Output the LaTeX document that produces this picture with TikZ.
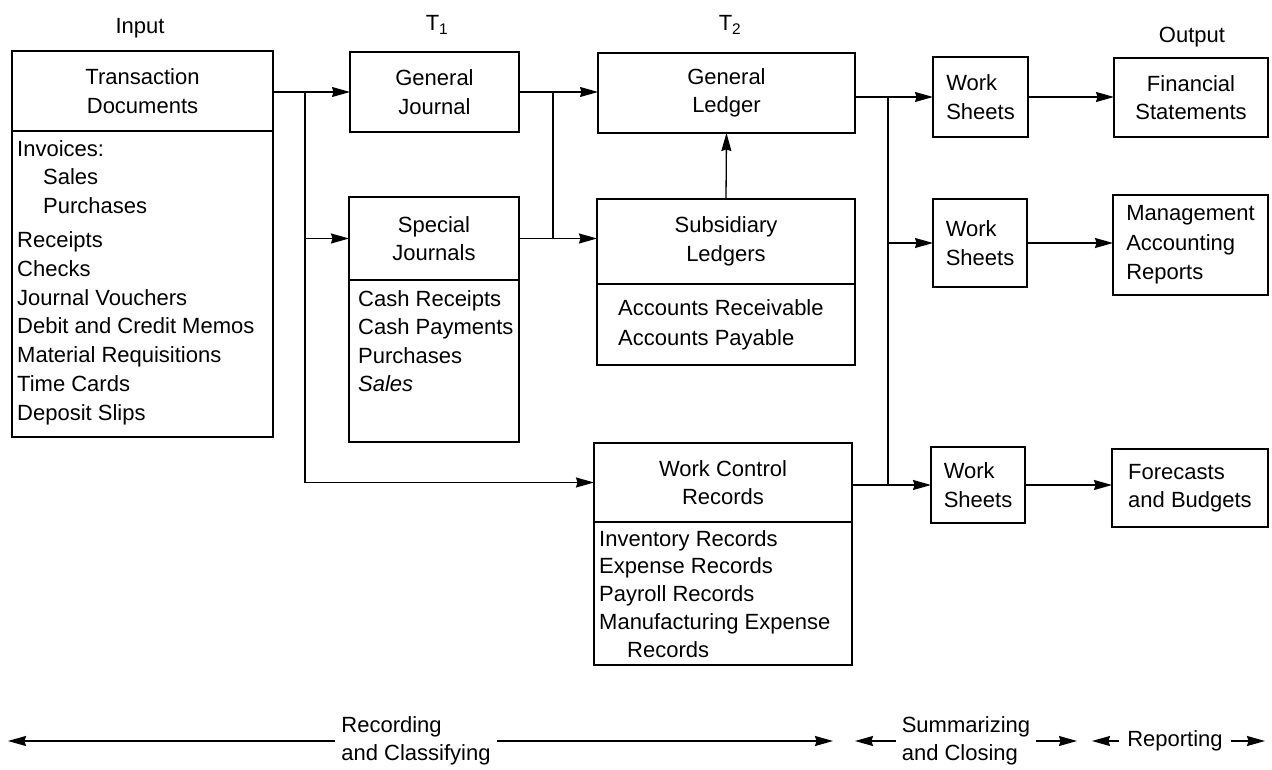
\documentclass[tikz,border=0pt]{standalone}
\usepackage{fontspec}
\setmainfont{Liberation Sans}
\usetikzlibrary{arrows.meta,calc}
\begin{document}
\begin{tikzpicture}[x=1pt,y=-1pt,
  every node/.style={font=\fontsize{22}{28.5}\selectfont},
  box/.style={draw, line width=1.6pt, inner sep=0pt, outer sep=0pt, align=center},
  lst/.style={inner sep=0pt, anchor=north west, align=left},
  lbl/.style={inner ysep=0pt, inner xsep=6pt},
  arr/.style={line width=1.3pt, -{Stealth[length=18pt,width=10pt,inset=1.5pt]}},
  ln/.style={line width=1.3pt}]
\useasboundingbox (0,0) rectangle (1272,770);

% column labels
\node[lbl] (in)  at (140,28) {Input};
\node[lbl] (t1)  at (437,25) {T\textsubscript{1}};
\node[lbl] (t2)  at (730,25) {T\textsubscript{2}};
\node[lbl] (out) at (1192,37) {Output};

% input
\node[box, minimum width=261pt, minimum height=80pt] (td) at (142.5,91) {Transaction\\Documents};
\node[box, anchor=north, minimum width=261pt, minimum height=306pt] (tdl) at (td.south) {};
\node[lst, font=\fontsize{22}{28.8}\selectfont] (tdt) at (17,140)
  {Invoices:\\\hspace*{26pt}Sales\\\hspace*{26pt}Purchases\\[5pt]Receipts\\Checks\\Journal Vouchers\\Debit and Credit Memos\\Material Requisitions\\Time Cards\\Deposit Slips};

% T1
\node[box, minimum width=169pt, minimum height=80pt] (gj) at (434.5,92) {General\\Journal};
\node[box, minimum width=170pt, minimum height=83pt] (sj) at (434,238.5) {Special\\Journals};
\node[box, anchor=north, minimum width=170pt, minimum height=162pt] (sjl) at (sj.south) {};
\node[lst] (sjt) at (358,290) {Cash Receipts\\Cash Payments\\Purchases\\\textit{Sales}};

% T2
\node[box, minimum width=257pt, minimum height=80pt] (gl) at (726.5,93) {General\\Ledger};
\node[box, minimum width=258pt, minimum height=85pt] (sl) at (726,241.5) {Subsidiary\\Ledgers};
\node[box, anchor=north, minimum width=258pt, minimum height=81pt] (sll) at (sl.south) {};
\node[lst, font=\fontsize{22}{30}\selectfont] (slt) at (618,299) {Accounts Receivable\\Accounts Payable};

\node[box, minimum width=258pt, minimum height=79pt] (wcr) at (723,482.5) {Work Control\\Records};
\node[box, anchor=north, minimum width=258pt, minimum height=143pt] (wcrl) at (wcr.south) {};
\node[lst, font=\fontsize{22}{27.8}\selectfont] (wcrt) at (599,530)
  {Inventory Records\\Expense Records\\Payroll Records\\Manufacturing Expense\\\hspace*{28pt}Records};

% work sheets
\node[box, align=left, minimum width=95pt, minimum height=80pt] (ws1) at (980.5,97) {Work\\Sheets};
\node[box, align=left, minimum width=94pt, minimum height=88pt] (ws2) at (980,243) {Work\\Sheets};
\node[box, align=left, minimum width=94pt, minimum height=76pt] (ws3) at (978,485) {Work\\Sheets};

% outputs
\node[box, minimum width=154pt, minimum height=79pt] (fs) at (1191,97.5) {Financial\\Statements};
\node[box, align=left, minimum width=155pt, minimum height=100pt, font=\fontsize{22}{29.5}\selectfont] (mar) at (1190.5,245) {Management\\Accounting\\Reports};
\node[box, align=left, minimum width=156pt, minimum height=78pt] (fb) at (1190,488) {Forecasts\\and Budgets};

% connectors
\coordinate (v1) at (305,92);
\coordinate (v2) at (553,92);
\coordinate (v3) at (888,97);
\draw[arr] (td.east |- gj.west) -- (gj.west);
\draw[arr] (v1) |- (wcr.west);
\draw[arr] (v1 |- sj.west) -- (sj.west);
\draw[arr] (gj.east) -- (gj.east -| gl.west);
\draw[ln] (v2) -- (v2 |- sj.east);
\draw[arr] (sj.east) -- (sj.east -| sl.west);
\draw[arr] (sl.north) -- (gl.south);
\draw[arr] (gl.east |- ws1.west) -- (ws1.west);
\draw[ln] (v3) -- (v3 |- ws3.west);
\draw[arr] (v3 |- ws2.west) -- (ws2.west);
\draw[arr] (wcr.east |- ws3.west) -- (ws3.west);
\draw[arr] (ws1.east) -- (ws1.east -| fs.west);
\draw[arr] (ws2.east) -- (ws2.east -| mar.west);
\draw[arr] (ws3.east) -- (ws3.east -| fb.west);

% phases
\node[lbl, align=left] (rec) at (416,741) {Recording\\and Classifying};
\node[lbl, align=left] (sum) at (966,741) {Summarizing\\and Closing};
\node[lbl, inner xsep=8pt] (rep) at (1175,741) {Reporting};
\coordinate (b1) at (8,741);
\coordinate (b2) at (833,741);
\coordinate (b3) at (855,741);
\coordinate (b4) at (1077,741);
\coordinate (b5) at (1092,741);
\coordinate (b6) at (1265,741);
\draw[arr] (rec.west) -- (rec.west -| b1);
\draw[arr] (rec.east) -- (rec.east -| b2);
\draw[arr] (sum.west) -- (sum.west -| b3);
\draw[arr] (sum.east) -- (sum.east -| b4);
\draw[arr] (rep.west) -- (rep.west -| b5);
\draw[arr] (rep.east) -- (rep.east -| b6);
\end{tikzpicture}
\end{document}
